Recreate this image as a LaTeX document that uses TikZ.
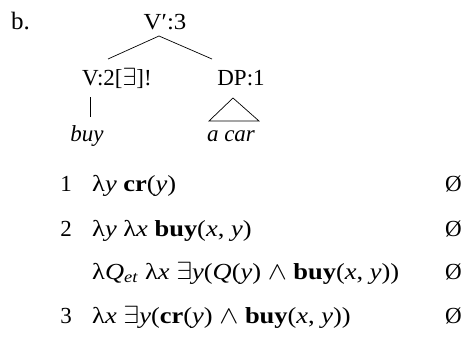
\documentclass[tikz,border=0pt]{standalone}
\usepackage{fontspec}
\setmainfont{Liberation Serif}
\usetikzlibrary{positioning,calc}
\tikzset{
  lbl/.style={anchor=base,inner sep=0pt,font=\fontsize{23}{27}\selectfont},
  sem/.style={anchor=base west,inner sep=0pt,xscale=1.15,transform shape,
              font=\fontsize{23}{27}\selectfont},
  edge/.style={line width=0.7pt},
}
\newcommand{\cst}[1]{\textbf{#1}}
\newcommand{\var}[1]{\textit{#1}}

\begin{document}
\begin{tikzpicture}[x=1pt,y=-1pt]
  \useasboundingbox (0,0) rectangle (463,343);
  % tree
  \node[lbl,anchor=base west,font=\fontsize{25}{29}\selectfont] (ex) at (11,29) {b.};
  \node[lbl,xscale=1.08,transform shape] (vp) at (165,29) {V′:3};
  \node[lbl,anchor=base west] (v) at (82,85) {V:2[$\exists$]!};
  \node[lbl] (dp) at (241,85) {DP:1};
  \node[lbl] (buy) at (87,141) {\var{buy}};
  \node[lbl] (car) at (231,141) {\var{a car}};
  \draw[edge] ([xshift=-6pt,yshift=-7pt]vp.base) -- ([xshift=26pt,yshift=26pt]v.base west);
  \draw[edge] ([xshift=-6pt,yshift=-7pt]vp.base) -- ([xshift=-29pt,yshift=26pt]dp.base);
  \draw[edge] ([xshift=8pt,yshift=-12pt]v.base west) -- ([xshift=3pt,yshift=24pt]buy.base);
  \draw[edge] ([xshift=-8pt,yshift=-13pt]dp.base) -- ([xshift=-22pt,yshift=20pt]car.base)
    -- ([xshift=28pt,yshift=20pt]car.base) -- cycle;
  % derivation
  \node[lbl] (n1) at (66,191) {1};
  \node[sem] (s1) at (92,191) {λ\var{y} \cst{cr}(\var{y})};
  \node[lbl,anchor=base east] (e1) at (462,191) {Ø};
  \node[lbl] (n2) at (66,236) {2};
  \node[sem] (s2) at (92,236) {λ\var{y} λ\var{x} \cst{buy}(\var{x}, \var{y})};
  \node[lbl,anchor=base east] (e2) at (462,236) {Ø};
  \node[sem] (s2b) at (92,279) {λ\var{Q}\textsubscript{\var{et}} λ\var{x} $\exists$\var{y}(\var{Q}(\var{y}) $\wedge$ \cst{buy}(\var{x}, \var{y}))};
  \node[lbl,anchor=base east] (e2b) at (462,279) {Ø};
  \node[lbl] (n3) at (66,323) {3};
  \node[sem] (s3) at (92,323) {λ\var{x} $\exists$\var{y}(\cst{cr}(\var{y}) $\wedge$ \cst{buy}(\var{x}, \var{y}))};
  \node[lbl,anchor=base east] (e3) at (462,323) {Ø};
\end{tikzpicture}
\end{document}
